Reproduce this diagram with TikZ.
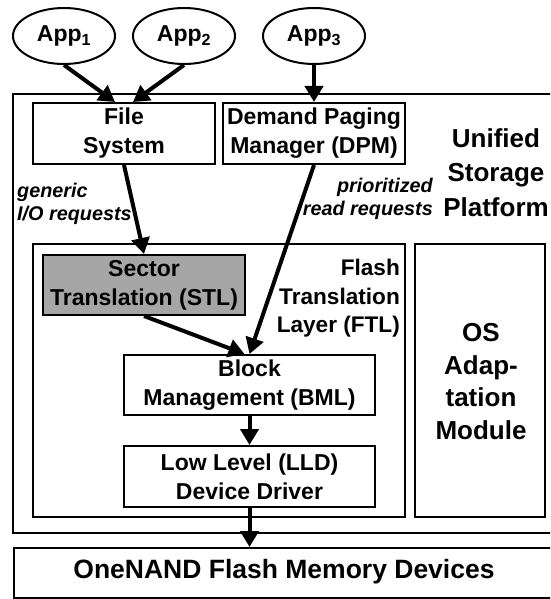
\documentclass[tikz,border=0pt]{standalone}
\usepackage{fontspec}
\setmainfont{Liberation Sans}
\usetikzlibrary{shapes.geometric,arrows.meta}
\definecolor{stlgray}{HTML}{A6A6A6}
\begin{document}
\begin{tikzpicture}[x=1pt,y=-1pt,
    frame/.style={line width=2pt},
    layer/.style={draw,frame,align=center,inner sep=0pt,font=\bfseries\fontsize{23}{29}\selectfont},
    app/.style={draw,ellipse,frame,inner sep=0pt,minimum width=102pt,minimum height=56pt,font=\bfseries\fontsize{23}{28}\selectfont},
    caption/.style={align=center,inner sep=0pt,font=\bfseries\fontsize{26}{34.5}\selectfont},
    req/.style={inner sep=0pt,font=\bfseries\itshape\fontsize{19.8}{23}\selectfont},
    flow/.style={line width=4pt,-{Triangle[length=16pt,width=18pt]}}]
  \useasboundingbox (0,0) rectangle (550,599);
  \clip (0,0) rectangle (550,599);
  % containers
  \draw[frame] (13,94) rectangle (556,533);
  \draw[frame] (33,244) rectangle (405,517);
  \draw[frame] (415,244) rectangle (545,517);
  % applications
  \node[app] (app1) at (64,36) {App\textsubscript{1}};
  \node[app] (app2) at (184,36) {App\textsubscript{2}};
  \node[app] (app3) at (314,36) {App\textsubscript{3}};
  % layers
  \node[layer,minimum width=182pt,minimum height=61pt] (fs) at (124,133.5) {File\\System};
  \node[layer,minimum width=182pt,minimum height=61pt] (dpm) at (314,133.5) {Demand Paging\\Manager (DPM)};
  \node[layer,fill=stlgray,minimum width=202pt,minimum height=60pt] (stl) at (144,285) {Sector\\Translation (STL)};
  \node[layer,minimum width=251pt,minimum height=60pt] (bml) at (249.5,385) {Block\\Management (BML)};
  \node[layer,minimum width=251pt,minimum height=61pt] (lld) at (249.5,476.5) {Low Level (LLD)\\Device Driver};
  \node[draw,frame,anchor=north west,minimum width=545pt,minimum height=50pt] (nand) at (13,547) {};
  \node[caption,font=\bfseries\fontsize{26.5}{30}\selectfont] (nandtxt) at (284,572) {OneNAND Flash Memory Devices};
  % captions
  \node[caption] (usp) at (496,172.5) {Unified\\Storage\\Platform};
  \node[caption,align=right,anchor=east,font=\bfseries\fontsize{22.6}{28.5}\selectfont] (ftl) at (400,298.5) {Flash\\Translation\\Layer (FTL)};
  \node[caption,font=\bfseries\fontsize{26}{32.5}\selectfont] (osam) at (481,381.5) {OS\\Adap-\\tation\\Module};
  \node[req,align=left,anchor=west] (genreq) at (17,203.5) {generic\\I/O requests};
  \node[req,align=right,anchor=east] (prioreq) at (433,198.5) {prioritized\\read requests};
  % requests
  \draw[flow] (app1.south) -- ([xshift=-9pt]fs.north);
  \draw[flow] (app2.south) -- ([xshift=9pt]fs.north);
  \draw[flow] (app3.south) -- (app3.south |- dpm.north);
  \draw[flow] (fs.south) -- (stl.north);
  \draw[flow] (dpm.south) -- (bml.north);
  \draw[flow] (stl.south) -- ([xshift=-5pt]bml.north);
  \draw[flow] (bml.south) -- (lld.north);
  \draw[flow] (lld.south) -- (lld.south |- nand.north);
\end{tikzpicture}
\end{document}
